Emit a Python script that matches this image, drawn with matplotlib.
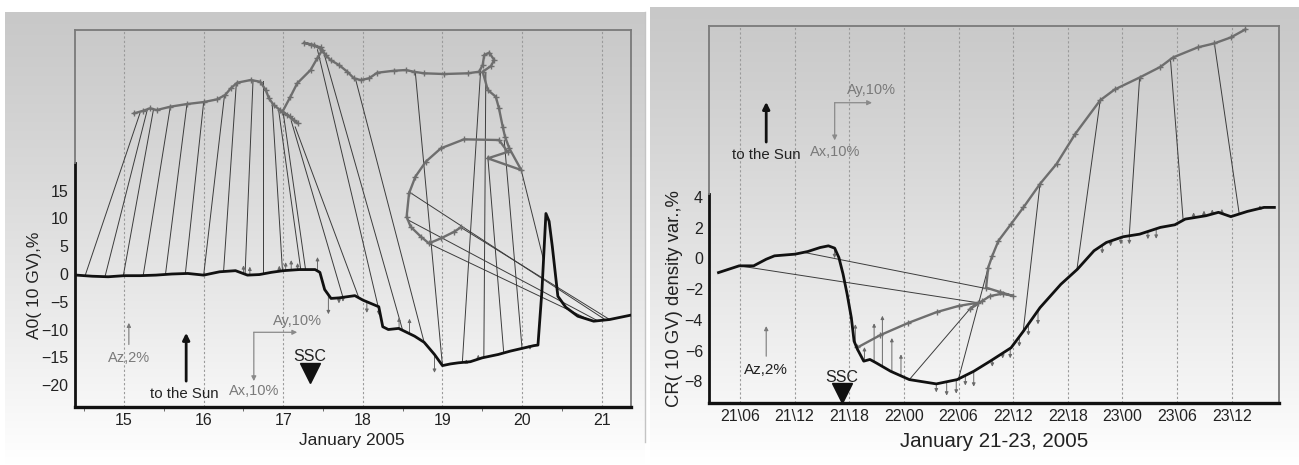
import numpy as np
import matplotlib
matplotlib.use("Agg")
import matplotlib.pyplot as plt

plt.rcParams['font.family'] = ['Liberation Sans', 'DejaVu Sans']

# ---------------- Left panel: January 2005 (days) ----------------
l_dens_t = [14.40, 14.6, 14.8, 15.0, 15.2, 15.4, 15.6, 15.8, 16.0, 16.2, 16.4, 16.55, 16.7, 16.85,
            17.0, 17.2, 17.4, 17.46, 17.52, 17.6, 17.7, 17.8, 17.9, 18.0, 18.1, 18.2, 18.25, 18.32,
            18.45, 18.55, 18.65, 18.77, 18.9, 19.0, 19.1, 19.2, 19.35, 19.5, 19.7, 19.85, 20.0,
            20.15, 20.2, 20.25, 20.3, 20.34, 20.38, 20.45, 20.55, 20.7, 20.9, 21.1, 21.37]
l_dens_y = [-0.2, -0.4, -0.5, -0.3, -0.3, -0.2, 0.0, 0.1, -0.2, 0.4, 0.6, -0.2, -0.1, 0.3,
            0.6, 0.8, 0.8, 0.3, -2.8, -4.4, -4.3, -4.1, -3.9, -4.7, -5.3, -5.9, -9.5, -10.0,
            -9.8, -10.5, -11.2, -12.3, -14.5, -16.5, -16.2, -16.0, -15.8, -15.1, -14.5, -13.9, -13.4,
            -12.9, -12.8, -3.0, 10.9, 9.5, 5.0, -4.0, -6.0, -7.6, -8.5, -8.2, -7.4]

l_hodo_x = [15.126, 15.243, 15.327, 15.41, 15.58, 15.79, 16.0, 16.17, 16.27, 16.34, 16.42, 16.59,
            16.71, 16.78, 16.82, 16.88, 16.96, 17.05, 17.13, 17.18, 17.08, 16.99,
            17.09, 17.175, 17.343, 17.427, 17.49, 17.384, 17.258, 17.35, 17.469, 17.532, 17.594,
            17.70, 17.805, 17.888, 17.972, 18.077, 18.18, 18.39, 18.54, 18.64, 18.77, 19.02,
            19.316, 19.46, 19.505, 19.525, 19.588, 19.65, 19.61, 19.505,
            19.57, 19.67, 19.71, 19.757, 19.786, 19.84, 19.99, 19.57, 19.82, 19.71,
            19.27, 18.98, 18.79, 18.66, 18.58, 18.55, 18.60, 18.73, 18.83, 18.98, 19.15, 19.23]
l_hodo_y = [28.95, 29.42, 29.85, 29.54, 30.14, 30.62, 30.98, 31.47, 32.25, 33.45, 34.46, 34.95,
            34.64, 33.15, 31.65, 30.45, 29.54, 28.64, 27.74, 27.15, 28.4, 29.24,
            31.94, 34.35, 36.75, 38.86, 40.35, 41.25, 41.67, 41.3, 40.84, 39.45, 38.55,
            37.65, 36.44, 35.25, 34.95, 35.25, 36.26, 36.62, 36.75, 36.44, 36.16, 36.03,
            36.16, 36.44, 37.65, 39.45, 39.87, 38.55, 37.47, 36.44,
            33.15, 31.94, 29.85, 26.54, 24.74, 22.64, 18.73, 20.84, 22.0, 24.14,
            24.26, 22.64, 20.23, 17.53, 14.53, 10.32, 8.52, 6.72, 5.52, 6.42, 7.63, 8.41]

# anisotropy vectors: start time on the density curve -> end point
l_vec_t0 = [14.51, 14.76, 14.99, 15.24, 15.52, 15.77, 16.0, 16.25, 16.52, 16.75, 16.99, 17.22,
            17.28, 17.75, 17.95, 18.24, 18.5, 18.77, 19.0, 19.25, 19.52, 19.77, 20.0, 20.27,
            21.05, 20.95, 20.85, 21.1]
l_vec_x1 = [15.2, 15.29, 15.37, 15.58, 15.79, 16.0, 16.26, 16.41, 16.62, 16.75, 16.86, 16.94,
            17.0, 17.1, 17.15, 17.43, 17.51, 17.91, 18.66, 19.48, 19.545, 19.57, 19.776, 19.99,
            18.58, 18.56, 18.83, 19.23]
l_vec_y1 = [29.0, 29.5, 29.7, 30.1, 30.6, 31.0, 32.0, 34.3, 34.9, 34.7, 30.9, 29.7,
            29.0, 27.6, 26.5, 40.4, 39.8, 35.0, 36.2, 36.75, 36.2, 21.1, 24.1, 18.7,
            14.8, 9.8, 5.5, 8.4]

# Az component (arrow length in axis units)
l_az_t = [16.5, 16.58, 16.95, 17.03, 17.1, 17.18, 17.43, 17.567, 17.7, 17.75, 18.05, 18.2,
          18.455, 18.586, 18.9, 19.3, 19.45, 20.1]
l_az_v = [1.5, 1.5, 1.0, 1.5, 1.8, 1.2, 2.5, -3.5, -1.0, -0.8, -2.0, -1.5,
          2.0, 2.7, -3.3, 0.5, 0.8, -0.6]

l_xticks = [15, 16, 17, 18, 19, 20, 21]
l_yticks = [-20, -15, -10, -5, 0, 5, 10, 15]

# ---------------- Right panel: January 21-23, 2005 (hours from 21 Jan 00 UT) ----------------
r_dens_t = [3.64, 5.91, 7.5, 8.88, 9.79, 12.06, 13.44, 14.8, 15.71, 16.4, 16.86, 17.32, 17.77,
            18.23, 18.53, 18.91, 19.59, 20.27, 20.95, 22.55, 24.6, 27.56, 29.85, 31.67, 33.48,
            35.77, 37.13, 38.95, 41.24, 43.06, 44.88, 46.24, 48.07, 49.89, 52.17, 53.76, 54.9,
            57.18, 58.55, 59.91, 61.73, 63.55, 64.69]
r_dens_y = [-0.93, -0.49, -0.49, -0.06, 0.16, 0.27, 0.44, 0.7, 0.81, 0.66, 0.05, -1.03, -2.34,
            -3.87, -5.39, -5.93, -6.69, -6.58, -6.8, -7.35, -7.89, -8.17, -7.89, -7.35, -6.69,
            -5.82, -4.74, -3.21, -1.69, -0.71, 0.49, 1.03, 1.4, 1.57, 2.01, 2.18, 2.55,
            2.77, 2.99, 2.71, 3.05, 3.31, 3.31]

r_hodo_x = [18.9, 21.4, 24.5, 27.6, 30.0, 32.1, 31.21, 32.58, 33.48, 34.85, 36.0, 34.6, 33.03,
            33.26, 33.71, 34.39, 35.76, 37.13, 38.95, 40.77, 42.83, 45.56, 47.15, 49.89, 52.17,
            53.54, 56.27, 58.1, 59.92, 61.51]
r_hodo_y = [-5.8, -5.0, -4.2, -3.5, -3.1, -2.89, -3.32, -2.78, -2.45, -2.3, -2.45, -2.2, -1.91,
            -0.6, 0.16, 1.14, 2.22, 3.31, 4.84, 6.14, 8.1, 10.28, 10.98, 11.76, 12.45,
            13.06, 13.72, 13.98, 14.37, 14.89]

r_vec_t0 = [5.91, 13.0, 24.6, 30.0, 37.1, 43.0, 48.75, 54.67, 60.83]
r_vec_x1 = [32.12, 33.48, 31.21, 33.26, 38.95, 45.56, 49.89, 53.27, 58.1]
r_vec_y1 = [-2.89, -2.02, -3.32, -0.6, 4.84, 10.28, 11.76, 13.0, 13.98]

r_az_t = [16.39, 18.67, 19.67, 20.73, 21.64, 22.68, 23.68, 27.56, 28.7, 29.75, 30.75, 31.67,
          33.71, 34.85, 35.68, 36.68, 37.68, 38.73, 45.79, 46.7, 47.84, 48.76, 50.8, 51.71,
          55.82, 56.96, 57.87, 58.92, 63.1]
r_az_v = [-0.65, 1.3, 0.9, 2.5, 3.3, 2.2, 1.4, -0.55, -0.9, -0.9, -0.65, -1.0,
          -0.45, -0.35, -0.65, -0.65, -0.75, -0.9, -0.55, -0.35, -0.45, -0.55, -0.5, -0.65,
          0.35, 0.35, 0.3, 0.3, 0.2]

r_xticks = [6, 12, 18, 24, 30, 36, 42, 48, 54, 60]
r_xticklabels = ["21\\06", "21\\12", "21\\18", "22\\00", "22\\06", "22\\12",
                 "22\\18", "23\\00", "23\\06", "23\\12"]
r_yticks = [-8, -6, -4, -2, 0, 2, 4]

# ---------------- figure ----------------
W, H = 1299, 465
fig = plt.figure(figsize=(W / 100, H / 100), dpi=100)
fig.patch.set_facecolor('white')


def px_rect(x0, y0, x1, y1):
    return [x0 / W, 1 - y1 / H, (x1 - x0) / W, (y1 - y0) / H]


def background(rect):
    bg = fig.add_axes(rect, zorder=-5)
    s = np.linspace(0, 1, 256)[:, None]
    g = 0.785 + 0.215 * s ** 1.15
    bg.imshow(np.dstack([g, g, g]), aspect='auto', extent=[0, 1, 0, 1], interpolation='bilinear')
    bg.set_axis_off()


background(px_rect(5, 12, 645, 465))
background(px_rect(650, 7, 1299, 465))
fig.add_artist(plt.Line2D([644.5 / W, 644.5 / W], [0.05, 1 - 12 / H], color='#c4c4c4', lw=1.0))

HODO = '#6e6e6e'
VEC = '#3c3c3c'
AZC = '#6a6a6a'
FRAME = '#7a7a7a'
TXT = '#222222'
ANN = '#7a7a7a'


def style_axes(ax, xlim, ylim, spine_top):
    ax.set_facecolor('none')
    ax.set_xlim(*xlim)
    ax.set_ylim(*ylim)
    for s in ['top', 'right']:
        ax.spines[s].set_color(FRAME)
        ax.spines[s].set_linewidth(1.3)
    ax.spines['bottom'].set_color('#111111')
    ax.spines['bottom'].set_linewidth(2.4)
    ax.spines['left'].set_color('#111111')
    ax.spines['left'].set_linewidth(2.0)
    ax.spines['left'].set_bounds(ylim[0], spine_top)
    frac = (spine_top - ylim[0]) / (ylim[1] - ylim[0])
    ax.plot([0, 0], [frac, 1], transform=ax.transAxes, color=FRAME, lw=1.3, clip_on=False, zorder=5)
    ax.tick_params(axis='both', which='major', length=0, labelsize=11.5, colors=TXT, pad=4.5)


def draw_az(ax, dt, dy, t, v):
    y0 = np.interp(t, dt, dy)
    for ti, yi, vi in zip(t, y0, v):
        ax.annotate('', xy=(ti, yi + vi), xytext=(ti, yi),
                    arrowprops=dict(arrowstyle='-|>', lw=0.7, color=AZC, mutation_scale=5,
                                    shrinkA=0, shrinkB=0), zorder=3)


def draw_vectors(ax, dt, dy, t0, x1, y1):
    y0 = np.interp(t0, dt, dy)
    for a, b, c, d in zip(t0, y0, x1, y1):
        ax.plot([a, c], [b, d], color=VEC, lw=0.7, zorder=2)


def arrow(ax, p0, p1, color, lw, ms):
    ax.annotate('', xy=p1, xytext=p0,
                arrowprops=dict(arrowstyle='-|>', lw=lw, color=color, mutation_scale=ms,
                                shrinkA=0, shrinkB=0))


# ---------- left ----------
axL = fig.add_axes(px_rect(74.5, 30, 631, 407))
style_axes(axL, (14.377, 21.369), (-23.96, 43.96), 20)
axL.set_xticks(l_xticks)
axL.set_yticks(l_yticks)
axL.set_xticks(np.arange(14.5, 21.5, 1.0), minor=True)
axL.tick_params(axis='x', which='minor', length=3, color='#555555', direction='out')
for x in l_xticks:
    axL.axvline(x, color='#9a9a9a', lw=0.8, ls=(0, (2, 2)), zorder=0)

draw_vectors(axL, l_dens_t, l_dens_y, l_vec_t0, l_vec_x1, l_vec_y1)
axL.plot(l_hodo_x, l_hodo_y, color=HODO, lw=1.7, marker='+', ms=4, mew=1, zorder=3)
draw_az(axL, l_dens_t, l_dens_y, l_az_t, l_az_v)
axL.plot(l_dens_t, l_dens_y, color='#111111', lw=2.0, zorder=4)

axL.set_xlabel('January 2005', fontsize=12.5, color=TXT)
axL.xaxis.set_label_coords(0.498, -0.069)
axL.set_ylabel('A0( 10 GV),%', fontsize=12.5, color=TXT)
axL.yaxis.set_label_coords(-0.058, 0.324)

arrow(axL, (15.06, -12.7), (15.06, -8.8), ANN, 0.8, 6)
axL.text(15.06, -15.1, 'Az,2%', ha='center', va='center', fontsize=10.5, color=ANN)
arrow(axL, (15.78, -19.3), (15.78, -10.6), '#111111', 2.0, 10)
axL.text(15.76, -21.7, 'to the Sun', ha='center', va='center', fontsize=10.8, color=TXT)
arrow(axL, (16.63, -10.5), (17.175, -10.5), '#8a8a8a', 0.9, 7)
arrow(axL, (16.63, -10.5), (16.63, -19.3), '#8a8a8a', 0.9, 7)
axL.text(17.175, -8.5, 'Ay,10%', ha='center', va='center', fontsize=10.5, color=ANN)
axL.text(16.63, -21.1, 'Ax,10%', ha='center', va='center', fontsize=10.5, color=ANN)
axL.text(17.33, -14.8, 'SSC', ha='center', va='center', fontsize=11.5, color=TXT)
axL.plot([17.33], [-17.9], marker='v', ms=14, color='#111111', zorder=6)

# ---------- right ----------
axR = fig.add_axes(px_rect(709.3, 26, 1279.3, 402.5))
style_axes(axR, (2.63, 65.23), (-9.38, 15.11), 4.15)
axR.set_xticks(r_xticks)
axR.set_xticklabels(r_xticklabels)
axR.set_yticks(r_yticks)
for x in r_xticks:
    axR.axvline(x, color='#9a9a9a', lw=0.8, ls=(0, (2, 2)), zorder=0)

draw_vectors(axR, r_dens_t, r_dens_y, r_vec_t0, r_vec_x1, r_vec_y1)
axR.plot(r_hodo_x, r_hodo_y, color=HODO, lw=1.7, marker='+', ms=4, mew=1, zorder=3)
draw_az(axR, r_dens_t, r_dens_y, r_az_t, r_az_v)
axR.plot(r_dens_t, r_dens_y, color='#111111', lw=2.0, zorder=4)

axR.set_xlabel('January 21-23, 2005', fontsize=14.8, color=TXT)
axR.xaxis.set_label_coords(0.50, -0.078)
axR.set_ylabel('CR( 10 GV) density var.,%', fontsize=13.3, color=TXT)
axR.yaxis.set_label_coords(-0.046, 0.275)

arrow(axR, (8.88, 7.56), (8.88, 10.17), '#111111', 2.0, 10)
axR.text(8.88, 6.69, 'to the Sun', ha='center', va='center', fontsize=10.8, color=TXT)
arrow(axR, (16.4, 10.12), (20.5, 10.12), '#8a8a8a', 0.9, 7)
arrow(axR, (16.4, 10.12), (16.4, 7.67), '#8a8a8a', 0.9, 7)
axR.text(20.48, 10.93, 'Ay,10%', ha='center', va='center', fontsize=10.5, color=ANN)
axR.text(16.4, 6.9, 'Ax,10%', ha='center', va='center', fontsize=10.5, color=ANN)
arrow(axR, (8.88, -6.37), (8.88, -4.41), ANN, 0.8, 6)
axR.text(8.88, -7.24, 'Az,2%', ha='center', va='center', fontsize=11, color=TXT)
axR.text(17.2, -7.74, 'SSC', ha='center', va='center', fontsize=11.5, color=TXT)
axR.plot([17.2], [-8.76], marker='v', ms=15, color='#111111', zorder=6)

fig.savefig('out.png', dpi=100)
